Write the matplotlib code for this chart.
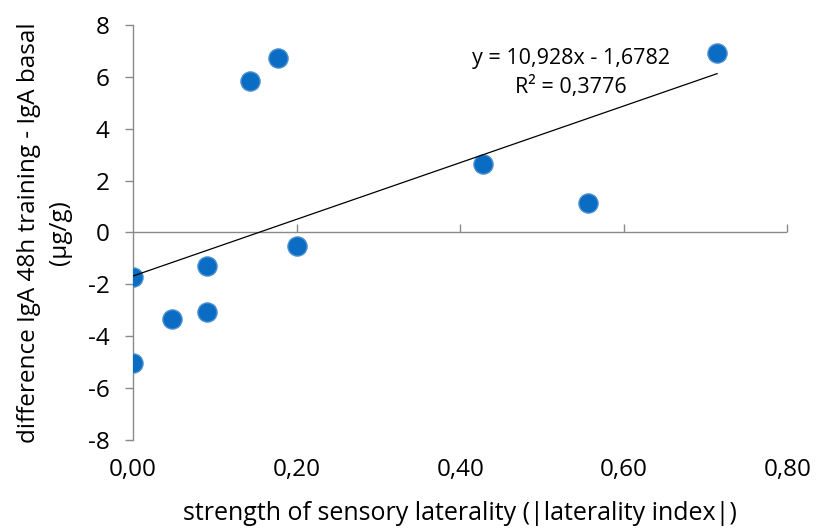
import numpy as np
import matplotlib.pyplot as plt

# data
laterality = [0.0, 0.0, 0.048, 0.091, 0.091, 0.143, 0.177, 0.200, 0.428, 0.556, 0.714]
iga_diff = [-1.73, -5.04, -3.35, -1.28, -3.08, 5.84, 6.72, -0.52, 2.63, 1.14, 6.92]
slope, intercept = 10.928, -1.6782
eq_text = "y = 10,928x - 1,6782\nR² = 0,3776"
x_ticks = [0.0, 0.2, 0.4, 0.6, 0.8]
x_ticklabels = ["0,00", "0,20", "0,40", "0,60", "0,80"]
y_ticks = [-8, -6, -4, -2, 0, 2, 4, 6, 8]

plt.rcParams['font.family'] = ['Open Sans', 'DejaVu Sans']
plt.rcParams['axes.unicode_minus'] = False
gray = '#8a8a8a'

fig = plt.figure(figsize=(8.16, 5.32), dpi=100)
ax = fig.add_axes([0.163, 0.173, 0.802, 0.780])

ax.scatter(laterality, iga_diff, s=190, color='#0A6CC2', edgecolors='#4C8FD0',
           linewidths=1, zorder=3)

xs = np.array([min(laterality), max(laterality)])
ax.plot(xs, slope * xs + intercept, color='black', lw=0.9, zorder=4)

ax.text(0.5354, 6.15, eq_text, ha='center', va='center', fontsize=15.5,
        linespacing=1.4)

ax.set_xlim(0, 0.8)
ax.set_ylim(-8, 8)

for s in ['top', 'right', 'bottom']:
    ax.spines[s].set_visible(False)
ax.spines['left'].set_color(gray)
ax.spines['left'].set_linewidth(1)

ax.set_yticks(y_ticks)
ax.set_yticklabels([str(v) for v in y_ticks])
ax.tick_params(axis='y', direction='out', length=6, width=1, color=gray,
               pad=11, labelsize=17.5)

# tick labels at the bottom, axis line at zero
ax.set_xticks(x_ticks)
ax.set_xticklabels(x_ticklabels)
ax.tick_params(axis='x', length=0, pad=13, labelsize=17.5)

ax.axhline(0, color=gray, lw=1, zorder=1)
zero_ax = ax.secondary_xaxis(0.5)
zero_ax.set_xticks(x_ticks[1:])
zero_ax.set_xticklabels([])
for s in zero_ax.spines.values():
    s.set_visible(False)
zero_ax.tick_params(direction='out', length=6, width=1, color=gray)

ax.set_xlabel("strength of sensory laterality (|laterality index|)",
              fontsize=18, labelpad=14)
ax.set_ylabel("difference IgA 48h training - IgA basal\n(µg/g)",
              fontsize=17.5, labelpad=11, linespacing=1.4)

plt.savefig('out.png', dpi=100)
